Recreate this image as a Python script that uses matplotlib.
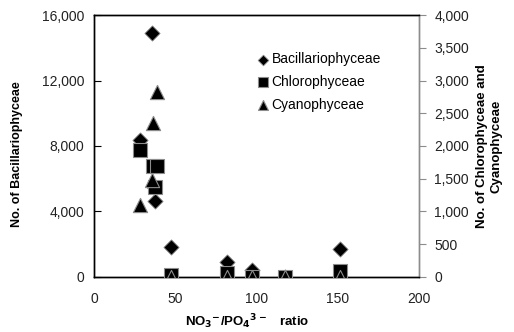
import matplotlib
matplotlib.use("Agg")
import matplotlib.pyplot as plt

plt.rcParams['font.family'] = ['Liberation Sans', 'DejaVu Sans']

# NO3/PO4 ratio and counts
bac_x = [35.9, 28.3, 37.5, 37.0, 47.2, 82.0, 97.4, 117.5, 151.4]
bac_y = [14900, 8350, 4650, 5500, 1850, 930, 400, 0, 1700]

chl_x = [28.3, 36.0, 39.0, 37.5, 47.2, 82.0, 97.4, 117.5, 151.4]
chl_y = [1940, 1700, 1700, 1370, 30, 55, 0, 0, 90]

cya_x = [38.5, 36.5, 35.9, 28.3, 47.2, 82.0, 97.4, 117.5, 151.4]
cya_y = [2830, 2350, 1480, 1100, 0, 0, 0, 0, 0]

left_ticks = [0, 4000, 8000, 12000, 16000]
right_ticks = [0, 500, 1000, 1500, 2000, 2500, 3000, 3500, 4000]
x_ticks = [0, 50, 100, 150, 200]

fig = plt.figure(figsize=(5.14, 3.32), dpi=100)
ax1 = fig.add_axes([0.1829, 0.1657, 0.6323, 0.7891])
ax2 = ax1.twinx()

edge = '#8c8c8c'
h1 = ax1.scatter(bac_x, bac_y, marker='D', s=60, c='black', edgecolors=edge,
                 linewidths=0.6, zorder=3, label='Bacillariophyceae')
h2 = ax2.scatter(chl_x, chl_y, marker='s', s=95, c='black', edgecolors=edge,
                 linewidths=0.8, zorder=3, label='Chlorophyceae')
h3 = ax2.scatter(cya_x, cya_y, marker='^', s=105, c='black', edgecolors=edge,
                 linewidths=0.8, zorder=4, label='Cyanophyceae')

ax1.set_xlim(0, 200)
ax1.set_ylim(0, 16000)
ax2.set_ylim(0, 4000)
ax1.set_xticks(x_ticks)
ax1.set_yticks(left_ticks)
ax2.set_yticks(right_ticks)
ax1.set_yticklabels([f'{v:,}' for v in left_ticks])
ax2.set_yticklabels([f'{v:,}' for v in right_ticks])

tcol = '#222222'
ax1.tick_params(axis='x', length=0, pad=11, labelsize=10, labelcolor=tcol)
ax1.tick_params(axis='y', direction='in', length=5, width=0.8, pad=7,
                labelsize=10, labelcolor=tcol)
ax2.tick_params(axis='y', direction='out', length=5, width=0.8, color=edge,
                pad=6, labelsize=10, labelcolor=tcol)

for ax in (ax1, ax2):
    for s in ax.spines.values():
        s.set_linewidth(1.0)
        s.set_color('black')
ax2.spines['right'].set_color(edge)
ax1.spines['right'].set_color(edge)

ax1.set_ylabel('No. of Bacillariophyceae', fontsize=9, fontweight='bold')
ax1.yaxis.set_label_coords(-0.22, 0.47)
ax2.set_ylabel('No. of Chlorophyceae and\nCyanophyceae', fontsize=9.5,
               fontweight='bold', rotation=90, linespacing=1.3)
ax2.yaxis.set_label_coords(1.176, 0.5)
ax1.set_xlabel(r'NO$_\mathbf{3}$$^\mathbf{-}$/PO$_\mathbf{4}$$^\mathbf{3-}$   ratio',
               fontsize=9.5, fontweight='bold')
ax1.xaxis.set_label_coords(0.47, -0.135)

ax2.legend(handles=[h1, h2, h3], loc='upper left', bbox_to_anchor=(0.472, 0.884),
           frameon=False, fontsize=10, handletextpad=0.05, handlelength=1.2,
           labelspacing=0.62, borderpad=0, markerscale=0.7)

fig.savefig('out.png', dpi=100)
